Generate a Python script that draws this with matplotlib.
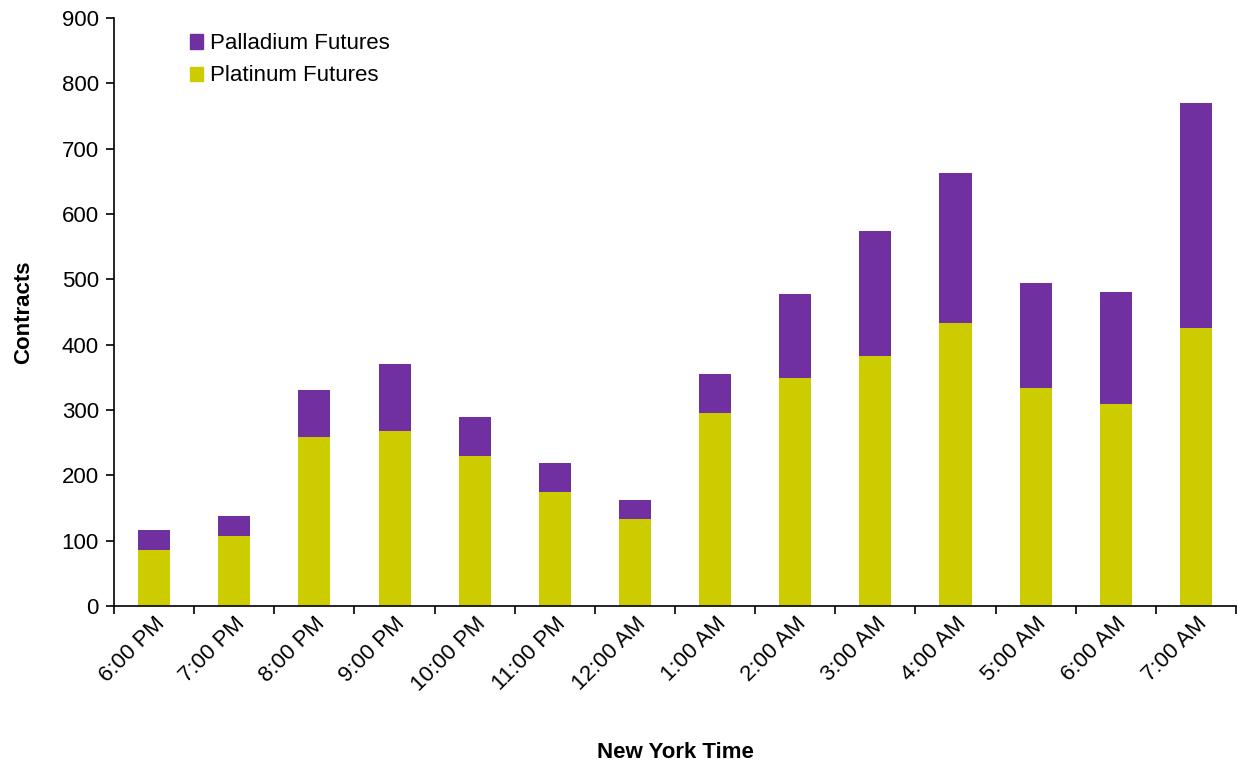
import numpy as np
import matplotlib.pyplot as plt
from matplotlib.patches import Patch

plt.rcParams['font.family'] = ['Liberation Sans', 'DejaVu Sans']

hours = ['6:00 PM', '7:00 PM', '8:00 PM', '9:00 PM', '10:00 PM', '11:00 PM',
         '12:00 AM', '1:00 AM', '2:00 AM', '3:00 AM', '4:00 AM', '5:00 AM',
         '6:00 AM', '7:00 AM']
platinum = [86, 107, 259, 268, 230, 174, 133, 295, 349, 383, 433, 334, 309, 426]
palladium = [30, 31, 72, 102, 59, 45, 29, 60, 129, 191, 230, 160, 172, 344]

purple = '#7030A0'
yellow = '#CCCC00'

fig = plt.figure(figsize=(12.37, 7.66), dpi=100)
ax = fig.add_axes([0.0922, 0.2089, 0.907, 0.7676])

x = np.arange(len(hours))
ax.bar(x, platinum, width=0.4, color=yellow, label='Platinum Futures')
ax.bar(x, palladium, width=0.4, bottom=platinum, color=purple, label='Palladium Futures')

ax.set_xlim(-0.5, len(hours) - 0.5)
ax.set_ylim(0, 900)
ax.set_yticks(np.arange(0, 901, 100))
ax.tick_params(axis='y', labelsize=16, length=6, width=1.2, direction='out', pad=5)

# category ticks between bars, labels centred on bars
ax.set_xticks(np.arange(-0.5, len(hours), 1.0))
ax.set_xticklabels([])
ax.set_xticks(x, minor=True)
ax.set_xticklabels(hours, minor=True, rotation=45, ha='right', rotation_mode='anchor', fontsize=16)
ax.tick_params(axis='x', which='major', length=6, width=1.2, direction='out')
ax.tick_params(axis='x', which='minor', length=0, pad=5)

for s in ['top', 'right']:
    ax.spines[s].set_visible(False)
for s in ['left', 'bottom']:
    ax.spines[s].set_linewidth(1.2)

ax.set_ylabel('Contracts', fontsize=16, fontweight='bold', labelpad=20)
ax.set_xlabel('New York Time', fontsize=16, fontweight='bold', labelpad=34)

handles = [Patch(color=purple, label='Palladium Futures'),
           Patch(color=yellow, label='Platinum Futures')]
ax.legend(handles=handles, loc='upper left', bbox_to_anchor=(0.05, 1.008), frameon=False,
          fontsize=16, handlelength=0.6, handleheight=0.6, handletextpad=0.3, labelspacing=0.5)

fig.savefig('out.png', dpi=100)
